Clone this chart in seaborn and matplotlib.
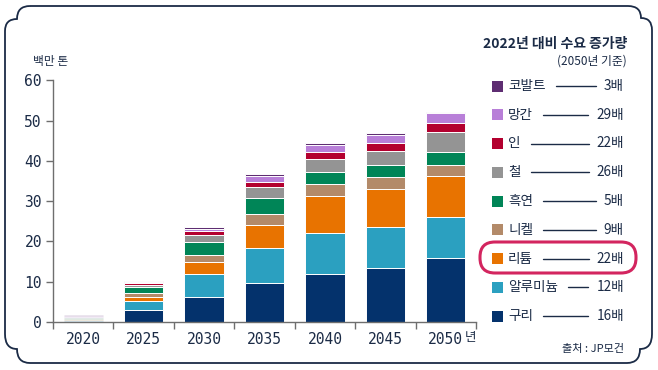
import numpy as np
import matplotlib
matplotlib.use("Agg")
import matplotlib.pyplot as plt
import seaborn as sns
from matplotlib.path import Path
from matplotlib.patches import PathPatch, FancyBboxPatch, Rectangle
from matplotlib.lines import Line2D
from matplotlib.transforms import IdentityTransform

# ---------------- data ----------------
years = ["2020", "2025", "2030", "2035", "2040", "2045", "2050"]
metals = ["구리", "알루미늄", "리튬", "니켈", "흑연", "철", "인", "망간", "코발트"]
copper     = [0.35, 2.9, 6.1, 9.7, 12.0, 13.4, 15.8]
aluminium  = [0.25, 2.2, 5.7, 8.6, 10.1, 10.1, 10.2]
lithium    = [0.05, 1.1, 3.0, 5.8, 9.1, 9.5, 10.2]
nickel     = [0.15, 0.9, 1.8, 2.6, 3.0, 2.9, 2.7]
graphite   = [0.20, 1.6, 3.3, 4.1, 3.0, 3.0, 3.2]
iron       = [0.30, 0.6, 1.7, 2.6, 3.2, 3.6, 5.1]
phosphorus = [0.05, 0.3, 0.9, 1.3, 1.7, 2.0, 2.2]
manganese  = [0.20, 0.4, 0.7, 1.5, 1.9, 2.0, 2.4]
cobalt     = [0.10, 0.2, 0.4, 0.5, 0.5, 0.4, 0.4]
series = [copper, aluminium, lithium, nickel, graphite, iron, phosphorus, manganese, cobalt]
multipliers = ["16배", "12배", "22배", "9배", "5배", "26배", "22배", "29배", "3배"]
colors = ["#04326c", "#2ba0c0", "#e87300", "#b38a69", "#008557",
          "#949494", "#b3002f", "#b87fd8", "#5e2d72"]
yticks = [0, 10, 20, 30, 40, 50, 60]

# ---------------- style ----------------
sns.set_theme(style="ticks")
plt.rcParams['font.family'] = ['Noto Sans CJK KR', 'DejaVu Sans']
TXT = "#1b2b46"
GRAY = "#6e6e6e"

W, H = 658, 370
fig = plt.figure(figsize=(W / 100, H / 100), dpi=100)
fig.patch.set_facecolor("white")

def fx(px):
    return px / W

def fy(py):
    return 1 - py / H

ax = fig.add_axes([fx(53), fy(322), (476 - 53) / W, (322 - 80.3) / H])

bottom = np.zeros(len(years))
for name, vals, col in zip(metals, series, colors):
    sns.barplot(x=years, y=vals, bottom=bottom.copy(), color=col, saturation=1,
                width=0.65, edgecolor="white", linewidth=0.7, errorbar=None, ax=ax)
    bottom += np.array(vals)

for p in ax.patches:
    if p.get_x() + p.get_width() / 2 < 0.5:
        p.set_alpha(0.35)

ax.set_xlim(-0.5, 6.5)
ax.set_ylim(0, 60)
ax.set_yticks(yticks)
ax.set_xticks(range(len(years)))
ax.set_xticklabels(years)
ax.set_xticks(np.arange(-0.5, 7, 1), minor=True)
ax.set_xlabel("")
ax.set_ylabel("")
for s in ["top", "right"]:
    ax.spines[s].set_visible(False)
for s in ["left", "bottom"]:
    ax.spines[s].set_color(GRAY)
    ax.spines[s].set_linewidth(1.0)
ax.tick_params(axis="y", left=True, length=5, width=1, color=GRAY,
               labelsize=10.5, labelcolor=TXT, pad=3)
ax.tick_params(axis="x", which="major", bottom=True, length=0, labelsize=10.5,
               labelcolor=TXT, pad=7)
ax.tick_params(axis="x", which="minor", bottom=True, length=5, width=1, color=GRAY)
for lbl in ax.get_yticklabels() + ax.get_xticklabels():
    lbl.set_fontfamily("DejaVu Sans Mono")

# axis texts
fig.text(fx(33), fy(62), "백만 톤", fontsize=8.5, color=TXT, ha="left", va="center")
fig.text(fx(465), fy(338), "년", fontsize=9, color=TXT, ha="left", va="center")

# legend block
fig.text(fx(627), fy(44), "2022년 대비 수요 증가량", fontsize=10, fontweight="bold",
         color=TXT, ha="right", va="center")
fig.text(fx(627), fy(61), "(2050년 기준)", fontsize=8.5, color=TXT, ha="right", va="center")

row_y0, row_dy = 86, 28.75
fig.canvas.draw()
renderer = fig.canvas.get_renderer()
order = list(range(len(metals)))[::-1]
for i, k in enumerate(order):
    yc = row_y0 + i * row_dy
    fig.add_artist(Rectangle((492, H - yc - 5.5), 11, 11, transform=IdentityTransform(),
                             facecolor=colors[k], edgecolor="none"))
    t1 = fig.text(fx(508), fy(yc), metals[k], fontsize=9.8, color=TXT, ha="left", va="center")
    t2 = fig.text(fx(624), fy(yc), multipliers[k], fontsize=9.8, color=TXT, ha="right", va="center")
    e1 = t1.get_window_extent(renderer)
    e2 = t2.get_window_extent(renderer)
    fig.add_artist(Line2D([e1.x1 + 10, e2.x0 - 8], [H - yc, H - yc], transform=IdentityTransform(),
                          color=TXT, lw=1.0))

# highlight box around lithium
hl = FancyBboxPatch((480, H - 273), 156, 31, boxstyle="round,pad=0,rounding_size=15",
                    transform=IdentityTransform(), fill=False, edgecolor="#d3255f", lw=2.2)
fig.add_artist(hl)

fig.text(fx(624), fy(349), "출처 : JP모건", fontsize=8, color=TXT, ha="right", va="center")

# decorative frame
pts = [
    ((30, 6), Path.MOVETO), ((628, 6), Path.LINETO),
    ((641, 6), Path.CURVE3), ((641, 18), Path.CURVE3),
    ((652, 18), Path.CURVE3), ((652, 30), Path.CURVE3),
    ((652, 334), Path.LINETO),
    ((652, 349), Path.CURVE3), ((640, 349), Path.CURVE3),
    ((640, 363), Path.CURVE3), ((627, 363), Path.CURVE3),
    ((30, 363), Path.LINETO),
    ((17, 363), Path.CURVE3), ((17, 349), Path.CURVE3),
    ((5, 349), Path.CURVE3), ((5, 334), Path.CURVE3),
    ((5, 31), Path.LINETO),
    ((5, 19), Path.CURVE3), ((17, 19), Path.CURVE3),
    ((17, 6), Path.CURVE3), ((30, 6), Path.CURVE3),
]
verts = [(x, H - y) for (x, y), c in pts]
codes = [c for _, c in pts]
frame = PathPatch(Path(verts, codes), transform=IdentityTransform(), fill=False,
                  edgecolor="#1b2b46", lw=1.3)
fig.add_artist(frame)

fig.savefig("out.png", dpi=100, facecolor="white")
